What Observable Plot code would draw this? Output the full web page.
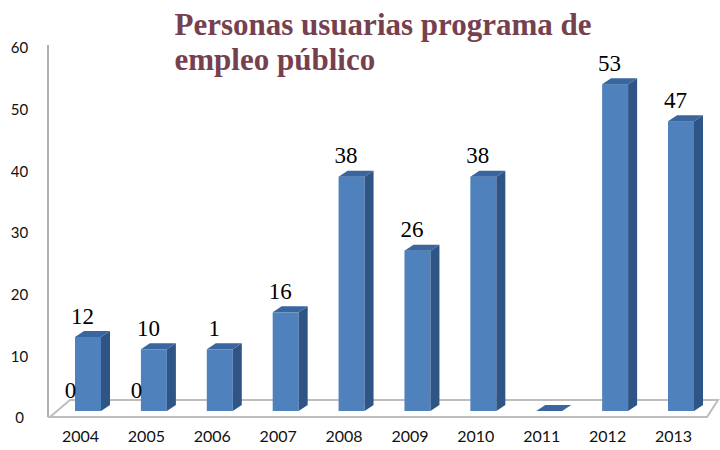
<!DOCTYPE html>
<html>
<head>
<meta charset="utf-8">
<script src="https://cdn.jsdelivr.net/npm/d3@7"></script>
<script src="https://cdn.jsdelivr.net/npm/@observablehq/plot@0.6"></script>
<style>
  html, body { margin: 0; padding: 0; background: #ffffff; }
  #chart svg { display: block; }
</style>
</head>
<body>
<div id="chart"></div>
<script>
// ---- Data ----
const years = [2004, 2005, 2006, 2007, 2008, 2009, 2010, 2011, 2012, 2013];
const values = [12, 10, 10, 16, 38, 26, 38, 0, 53, 47];
const valueLabels = ["12", "10", "1", "16", "38", "26", "38", "", "53", "47"];
const strayYears = [2004, 2005];
const strayLabels = ["0", "0"];
const yTicks = [0, 10, 20, 30, 40, 50, 60];
const titleLines = ["Personas usuarias programa de", "empleo público"];

// ---- Build tables ----
const bars = years.map((year, i) => ({year, value: values[i], label: valueLabels[i]}));
const strays = strayYears.map((year, i) => ({year, label: strayLabels[i]}));

// 3D look (style constants)
const HW = 0.197;  // half front width (in year units)
const DX = 0.137;  // depth along x (year units)
const DY = 0.97;   // depth along y (value units)

const sidePts = bars.flatMap(d => [
  {year: d.year, x: d.year + HW, y1: 0, y2: d.value},
  {year: d.year, x: d.year + HW + DX, y1: DY, y2: d.value + DY}
]);
const topPts = bars.flatMap(d => [
  {year: d.year, x: d.year - HW, y1: d.value, y2: d.value},
  {year: d.year, x: d.year - HW + DX, y1: d.value, y2: d.value + DY},
  {year: d.year, x: d.year + HW, y1: d.value, y2: d.value + DY},
  {year: d.year, x: d.year + HW + DX, y1: d.value + DY, y2: d.value + DY}
]);

// Floor + axis line drawn from the y scale and the frame
const floorMark = Plot.ruleY([0], {
  render: (index, scales, vals, dim) => {
    const y0 = scales.y(0);
    const yTop = scales.y(60);
    const xl = dim.marginLeft;
    const xr = dim.width - dim.marginRight;
    const g = d3.create("svg:g");
    g.append("polygon")
      .attr("points", [[xl + 2, y0 + 6], [xr, y0 + 6], [xr + 11, y0 - 11], [xl + 22, y0 - 11]].map(p => p.join(",")).join(" "))
      .attr("fill", "#ffffff")
      .attr("stroke", "#bdbdbd")
      .attr("stroke-width", 2);
    g.append("line")
      .attr("x1", xl).attr("x2", xl)
      .attr("y1", yTop + 4).attr("y2", y0 + 6)
      .attr("stroke", "#b0b0b0")
      .attr("stroke-width", 2);
    return g.node();
  }
});

const titleFont = {
  frameAnchor: "top-left", dx: 126,
  textAnchor: "start", lineAnchor: "bottom",
  fontFamily: "Liberation Serif, Times New Roman, serif",
  fontWeight: "bold", fontSize: 31, fill: "#76404f"
};

const chart = Plot.plot({
  width: 720,
  height: 450,
  marginLeft: 48,
  marginRight: 13,
  marginTop: 41,
  marginBottom: 39,
  x: {type: "linear", domain: [2004, 2013], range: [88, 681], axis: null},
  y: {domain: [0, 60], axis: null},
  style: {background: "#ffffff", fontFamily: "Lato, sans-serif"},
  marks: [
    floorMark,
    // front faces
    Plot.rectY(bars, {
      x1: d => d.year - HW, x2: d => d.year + HW,
      y1: d => 0, y2: d => d.value,
      fill: "#4f81bd"
    }),
    // side faces
    Plot.areaY(sidePts, {x: "x", y1: "y1", y2: "y2", z: "year", fill: "#2f5587", curve: "linear"}),
    // top faces
    Plot.areaY(topPts, {x: "x", y1: "y1", y2: "y2", z: "year", fill: "#3a66a0", curve: "linear"}),
    // value labels
    Plot.text(bars.filter(d => d.label !== ""), {
      x: "year", y: "value", text: "label",
      dx: -6, dy: -14, lineAnchor: "bottom",
      fontFamily: "Liberation Serif, Times New Roman, serif",
      fontSize: 23, fill: "#000000"
    }),
    Plot.text(strays, {
      x: "year", y: d => 0, text: "label",
      dx: -18, dy: -14, lineAnchor: "bottom",
      fontFamily: "Liberation Serif, Times New Roman, serif",
      fontSize: 23, fill: "#000000"
    }),
    // y tick labels
    Plot.text(yTicks, {
      y: d => d, text: d => String(d),
      frameAnchor: "left", dx: -29, dy: 7, textAnchor: "middle",
      fontFamily: "Lato, sans-serif", fontSize: 15, fill: "#111111"
    }),
    // x tick labels
    Plot.text(years, {
      x: d => d, text: d => String(d),
      frameAnchor: "bottom", dx: -8, dy: 30,
      fontFamily: "Lato, sans-serif", fontSize: 16, fill: "#111111"
    }),
    // title, two lines
    Plot.text([titleLines[0]], {...titleFont, text: d => d, dy: -7}),
    Plot.text([titleLines[1]], {...titleFont, text: d => d, dy: 28})
  ]
});

document.getElementById("chart").appendChild(chart);
</script>
</body>
</html>
